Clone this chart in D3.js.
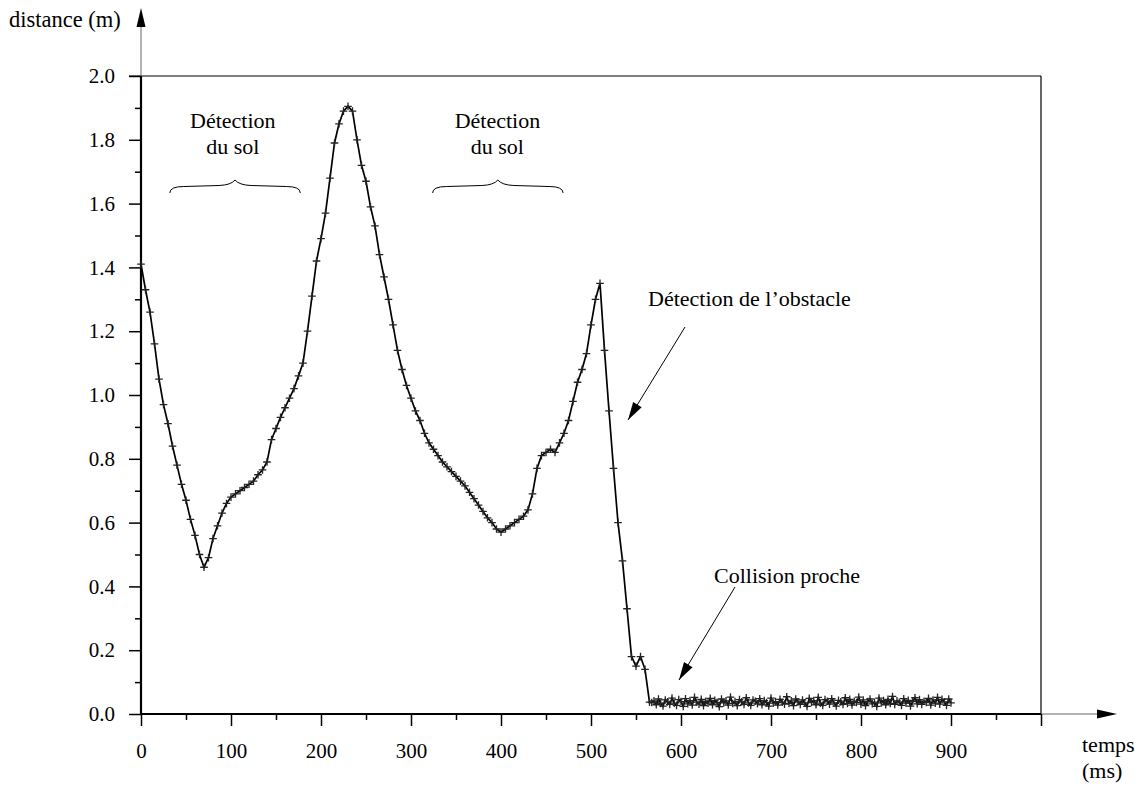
<!DOCTYPE html>
<html>
<head>
<meta charset="utf-8">
<script src="https://cdn.jsdelivr.net/npm/d3@7"></script>
<style>
  html, body { margin: 0; padding: 0; background: #fff; }
  svg { display: block; font-family: "Liberation Serif", "Times New Roman", serif; }
</style>
</head>
<body>
<svg id="chart" width="1142" height="787"></svg>
<script>
// ---- data (time in ms, distance in m) ----
// main curve, read every 5 ms from 0 to 565 ms
const curveStart = 0;
const curveStep = 5;
const distance = [
  1.41, 1.33, 1.26, 1.16, 1.05, 0.97, 0.91, 0.84, 0.78, 0.72,
  0.67, 0.61, 0.56, 0.50, 0.46, 0.49, 0.55, 0.59, 0.63, 0.66,
  0.68, 0.69, 0.70, 0.71, 0.72, 0.73, 0.75, 0.765, 0.79, 0.86,
  0.895, 0.93, 0.96, 0.99, 1.02, 1.06, 1.10, 1.20, 1.31, 1.42,
  1.49, 1.57, 1.68, 1.79, 1.85, 1.89, 1.905, 1.89, 1.80, 1.72,
  1.67, 1.59, 1.53, 1.44, 1.37, 1.30, 1.22, 1.14, 1.08, 1.03,
  0.99, 0.95, 0.92, 0.88, 0.85, 0.83, 0.81, 0.79, 0.775, 0.76,
  0.745, 0.73, 0.715, 0.695, 0.675, 0.655, 0.635, 0.615, 0.60, 0.58,
  0.57, 0.58, 0.59, 0.60, 0.61, 0.62, 0.64, 0.69, 0.77, 0.81,
  0.82, 0.83, 0.82, 0.85, 0.88, 0.92, 0.98, 1.04, 1.08, 1.13,
  1.22, 1.30, 1.35, 1.14, 0.95, 0.77, 0.60, 0.48, 0.33, 0.18,
  0.15, 0.18, 0.14, 0.037
];
// close-range plateau, read every 2.5 ms from 567.5 to 900 ms
const plateauStart = 567.5;
const plateauStep = 2.5;
const plateau = [
  0.036, 0.041, 0.029, 0.047, 0.033, 0.025, 0.044, 0.038, 0.030, 0.050,
  0.034, 0.027, 0.045, 0.039, 0.024, 0.048, 0.032, 0.042, 0.028, 0.052,
  0.037, 0.031, 0.046, 0.026, 0.040, 0.034, 0.049, 0.029, 0.043, 0.036,
  0.023, 0.047, 0.035, 0.041, 0.028, 0.053, 0.033, 0.039, 0.026, 0.045,
  0.038, 0.030, 0.051, 0.035, 0.027, 0.044, 0.040, 0.032, 0.048, 0.029,
  0.042, 0.036, 0.025, 0.050, 0.034, 0.039, 0.028, 0.046, 0.037, 0.031,
  0.054, 0.033, 0.041, 0.026, 0.047, 0.038, 0.030, 0.044, 0.035, 0.024,
  0.049, 0.036, 0.042, 0.029, 0.052, 0.034, 0.027, 0.045, 0.040, 0.031,
  0.048, 0.035, 0.025, 0.043, 0.038, 0.030, 0.051, 0.033, 0.046, 0.028,
  0.040, 0.036, 0.053, 0.031, 0.044, 0.026, 0.039, 0.047, 0.032, 0.037,
  0.024, 0.050, 0.035, 0.042, 0.029, 0.046, 0.033, 0.055, 0.030, 0.041,
  0.037, 0.027, 0.048, 0.034, 0.043, 0.025, 0.039, 0.051, 0.032, 0.045,
  0.030, 0.040, 0.036, 0.049, 0.028, 0.044, 0.034, 0.052, 0.031, 0.046,
  0.038, 0.027, 0.047, 0.035
];
const xMajorTicks = [0, 100, 200, 300, 400, 500, 600, 700, 800, 900, 1000];
const xTickLabels = ["0", "100", "200", "300", "400", "500", "600", "700", "800", "900", ""];
const xMinorTicks = [50, 150, 250, 350, 450, 550, 650, 750, 850, 950];
const yMajorTicks = [0, 0.2, 0.4, 0.6, 0.8, 1.0, 1.2, 1.4, 1.6, 1.8, 2.0];
const yMinorTicks = [0.1, 0.3, 0.5, 0.7, 0.9, 1.1, 1.3, 1.5, 1.7, 1.9];
const yAxisTitle = "distance (m)";
const xAxisTitle = ["temps", "(ms)"];
const groundLabels = [{ t: 102, lines: ["Détection", "du sol"], from: 32, to: 177 },
                      { t: 396, lines: ["Détection", "du sol"], from: 324, to: 469 }];
const obstacleLabel = "Détection de l’obstacle";
const collisionLabel = "Collision proche";

const data = distance.map((v, i) => ({ t: curveStart + i * curveStep, v }))
  .concat(plateau.map((v, i) => ({ t: plateauStart + i * plateauStep, v })));

// ---- layout ----
const svg = d3.select("#chart");
const x = d3.scaleLinear().domain([0, 1000]).range([141, 1041]);
const y = d3.scaleLinear().domain([0, 2]).range([714, 76]);
const FS = 21;

// frame lines (top and right)
svg.append("line").attr("x1", 129).attr("x2", x(1000)).attr("y1", y(2)).attr("y2", y(2))
  .attr("stroke", "#000").attr("stroke-width", 1.2);
svg.append("line").attr("x1", x(1000)).attr("x2", x(1000)).attr("y1", y(2)).attr("y2", 714)
  .attr("stroke", "#000").attr("stroke-width", 1.2);

// axis extensions with arrows
svg.append("line").attr("x1", x(0)).attr("x2", x(0)).attr("y1", y(2)).attr("y2", 24)
  .attr("stroke", "#666").attr("stroke-width", 1);
svg.append("path").attr("d", `M${x(0)},8 L${x(0) - 4.5},27 L${x(0) + 4.5},27 Z`).attr("fill", "#000");
svg.append("line").attr("x1", x(1000)).attr("x2", 1100).attr("y1", 714).attr("y2", 714)
  .attr("stroke", "#666").attr("stroke-width", 1);
svg.append("path").attr("d", `M1117,714 L1097,709.5 L1097,718.5 Z`).attr("fill", "#000");

// axes
const yMajor = d3.axisLeft(y).tickValues(yMajorTicks).tickSize(12).tickPadding(14)
  .tickFormat(d3.format(".1f"));
const yMinor = d3.axisLeft(y).tickValues(yMinorTicks).tickSize(6).tickFormat("");
const xMajor = d3.axisBottom(x).tickValues(xMajorTicks).tickSize(12).tickPadding(17)
  .tickFormat((d, i) => xTickLabels[i]);
const xMinor = d3.axisBottom(x).tickValues(xMinorTicks).tickSize(6).tickFormat("");

function styleAxis(g) {
  g.select(".domain").remove();
  g.selectAll(".tick line").attr("stroke", "#000").attr("stroke-width", 1.5);
  g.selectAll(".tick text").attr("fill", "#000")
    .style("font-family", "'Liberation Serif', serif").style("font-size", FS + "px");
}
svg.append("g").attr("transform", `translate(${x(0)},0)`).call(yMajor).call(styleAxis);
svg.append("g").attr("transform", `translate(${x(0)},0)`).call(yMinor).call(styleAxis);
svg.append("g").attr("transform", `translate(0,${y(0)})`).call(xMajor).call(styleAxis);
svg.append("g").attr("transform", `translate(0,${y(0)})`).call(xMinor).call(styleAxis);

// thick axis lines
svg.append("line").attr("x1", x(0)).attr("x2", x(0)).attr("y1", y(0)).attr("y2", y(2))
  .attr("stroke", "#000").attr("stroke-width", 2.2);
svg.append("line").attr("x1", x(0) - 1).attr("x2", x(1000)).attr("y1", y(0)).attr("y2", y(0))
  .attr("stroke", "#000").attr("stroke-width", 2.2);

// axis titles
svg.append("text").attr("x", 9).attr("y", 27).attr("font-size", 22.5).text(yAxisTitle);
svg.append("text").attr("x", 1082).attr("y", 752).attr("font-size", 22).text(xAxisTitle[0]);
svg.append("text").attr("x", 1082).attr("y", 778).attr("font-size", 22).text(xAxisTitle[1]);

// data line
const line = d3.line().x(d => x(d.t)).y(d => y(d.v));
svg.append("path").datum(data).attr("d", line)
  .attr("fill", "none").attr("stroke", "#000").attr("stroke-width", 1.7);

// + markers
svg.append("g").selectAll("path").data(data).join("path")
  .attr("d", d => {
    const cx = x(d.t), cy = y(d.v);
    return `M${cx - 3.8},${cy}H${cx + 3.8}M${cx},${cy - 3.8}V${cy + 3.8}`;
  })
  .attr("stroke", "#222").attr("stroke-width", 1.3).attr("fill", "none");

// "Détection du sol" labels and braces
groundLabels.forEach(g => {
  const cx = x(g.t);
  svg.append("text").attr("x", cx).attr("y", 128).attr("text-anchor", "middle")
    .attr("font-size", 22).text(g.lines[0]);
  svg.append("text").attr("x", cx).attr("y", 154).attr("text-anchor", "middle")
    .attr("font-size", 22).text(g.lines[1]);
  const x1 = x(g.from), x2 = x(g.to), bc = (x1 + x2) / 2;
  const yb = 193, yh = 186.5, yp = 180;
  const d = `M${x1},${yb} Q${x1},${yh} ${x1 + 14},${yh} L${bc - 16},${yh - 1} Q${bc - 4},${yh - 1.5} ${bc},${yp}`
    + ` Q${bc + 4},${yh - 1.5} ${bc + 16},${yh - 1} L${x2 - 14},${yh} Q${x2},${yh} ${x2},${yb}`;
  svg.append("path").attr("d", d).attr("fill", "none").attr("stroke", "#000").attr("stroke-width", 1);
});

// arrows
function arrow(x1, y1, x2, y2) {
  svg.append("line").attr("x1", x1).attr("y1", y1).attr("x2", x2).attr("y2", y2)
    .attr("stroke", "#000").attr("stroke-width", 1);
  const a = Math.atan2(y2 - y1, x2 - x1);
  const L = 18, W = 5;
  const bx = x2 - L * Math.cos(a), by = y2 - L * Math.sin(a);
  const px = -Math.sin(a) * W, py = Math.cos(a) * W;
  svg.append("path").attr("d", `M${x2},${y2} L${bx + px},${by + py} L${bx - px},${by - py} Z`).attr("fill", "#000");
}

svg.append("text").attr("x", 648).attr("y", 306).attr("font-size", 22).text(obstacleLabel);
arrow(685, 327, 628, 420);
svg.append("text").attr("x", 714).attr("y", 583).attr("font-size", 22).text(collisionLabel);
arrow(735, 587, 679, 680);
</script>
</body>
</html>
